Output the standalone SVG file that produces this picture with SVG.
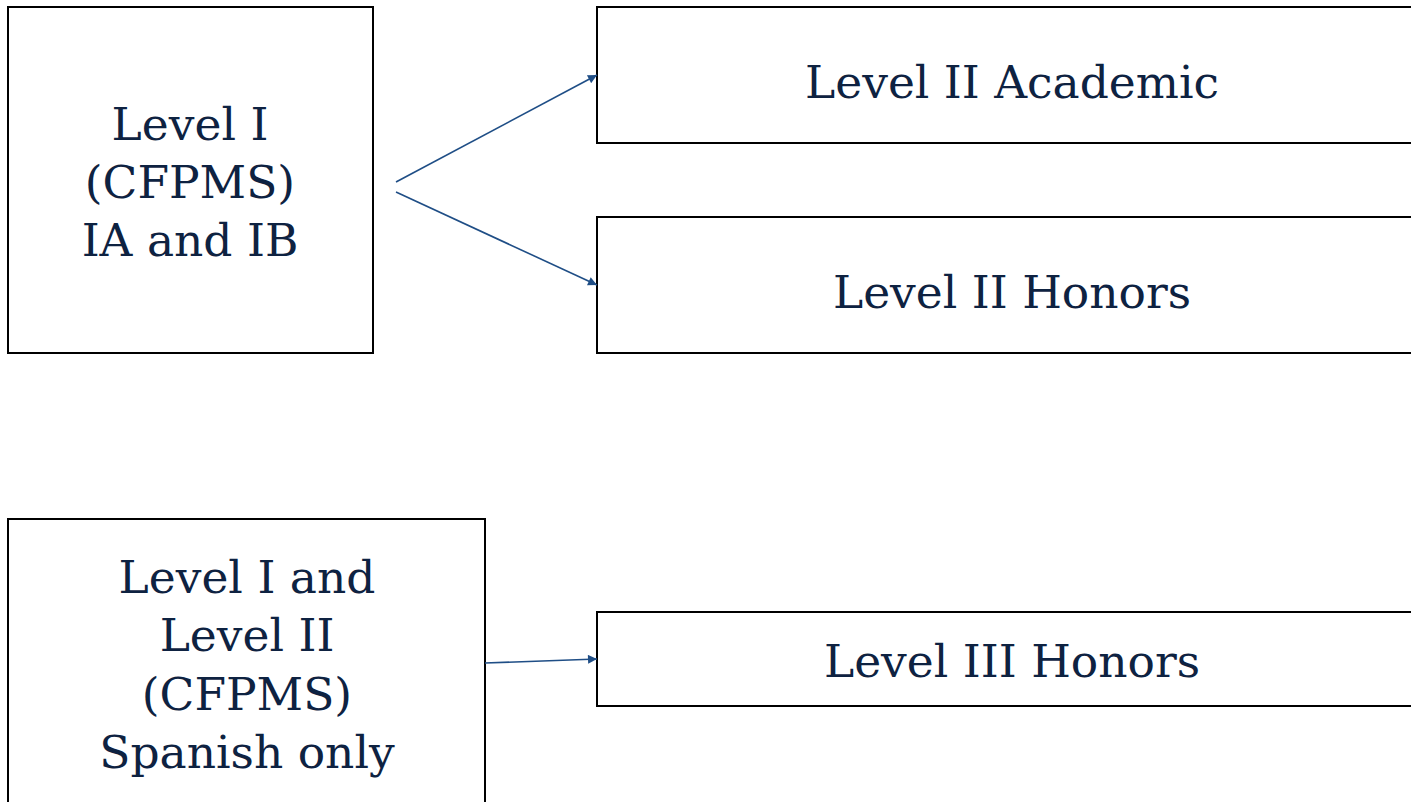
<svg xmlns="http://www.w3.org/2000/svg" width="1411" height="802" viewBox="0 0 1411 802">
<style>
.box{fill:#fff;stroke:#000;stroke-width:2}
.t{font-family:"DejaVu Serif","Liberation Serif",serif;font-size:45.5px;fill:#0e2241;text-anchor:middle}
.c{stroke:#1f4e86;stroke-width:1.6;fill:none;marker-end:url(#ah)}
</style>
<defs>
<marker id="ah" viewBox="0 0 10 10" refX="10" refY="5" markerWidth="10" markerHeight="9" orient="auto" markerUnits="userSpaceOnUse">
<path d="M0,0 L10,5 L0,10 z" fill="#1f4e86"/>
</marker>
</defs>
<rect width="1411" height="802" fill="#fff"/>
<g id="n1"><rect class="box" x="8" y="7" width="365" height="346"/>
<text class="t" x="190" y="140">Level I</text>
<text class="t" x="190" y="198">(CFPMS)</text>
<text class="t" x="190" y="256">IA and IB</text></g>
<g id="n2"><rect class="box" x="597" y="7" width="830" height="136"/>
<text class="t" x="1012" y="98">Level II Academic</text></g>
<g id="n3"><rect class="box" x="597" y="217" width="830" height="136"/>
<text class="t" x="1012" y="308">Level II Honors</text></g>
<g id="n4"><rect class="box" x="8" y="519" width="477" height="300"/>
<text class="t" x="247" y="593">Level I and</text>
<text class="t" x="247" y="651">Level II</text>
<text class="t" x="247" y="710">(CFPMS)</text>
<text class="t" x="247" y="768">Spanish only</text></g>
<g id="n5"><rect class="box" x="597" y="612" width="830" height="94"/>
<text class="t" x="1012" y="677">Level III Honors</text></g>
<g id="connectors">
<line class="c" x1="396" y1="182" x2="597" y2="75"/>
<line class="c" x1="396" y1="192" x2="597" y2="285"/>
<line class="c" x1="485" y1="663" x2="597" y2="659"/>
</g>
</svg>
